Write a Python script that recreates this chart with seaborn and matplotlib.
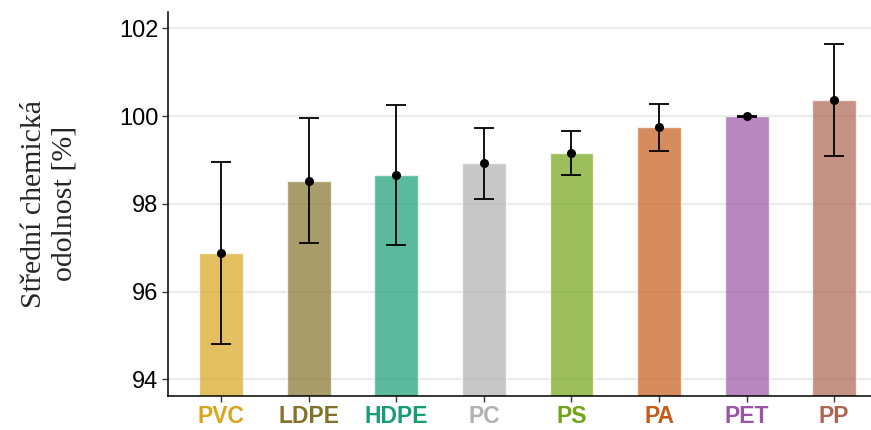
import matplotlib
matplotlib.use("Agg")
import matplotlib.pyplot as plt
import seaborn as sns
import pandas as pd

# Mean chemical resistance per polymer with its spread
polymers = ["PVC", "LDPE", "HDPE", "PC", "PS", "PA", "PET", "PP"]
mean_resistance = [96.88, 98.53, 98.66, 98.92, 99.16, 99.74, 99.99, 100.37]
spread = [2.08, 1.43, 1.60, 0.81, 0.51, 0.54, 0.02, 1.28]
colors = ["#D8A51C", "#83722A", "#169D75", "#B1B1B1",
          "#72A516", "#C75B19", "#9A55A5", "#AB6650"]

df = pd.DataFrame({"polymer": polymers, "mean": mean_resistance, "sd": spread})

sns.set_theme(style="white")
plt.rcParams["font.family"] = ["Liberation Sans", "DejaVu Sans"]

fig = plt.figure(figsize=(8.71, 4.30), dpi=100)
ax = fig.add_axes([0.193, 0.080, 0.807, 0.892])

ax.yaxis.grid(True, color="#EBEBEB", linewidth=1.6, zorder=0)
ax.set_axisbelow(True)

sns.barplot(data=df, x="polymer", y="mean", hue="polymer", palette=colors,
            order=polymers, hue_order=polymers, width=0.5, alpha=0.7,
            saturation=1, legend=False, errorbar=None, ax=ax, zorder=2)

xpos = list(range(len(polymers)))
ax.errorbar(xpos, df["mean"], yerr=df["sd"], fmt="none", ecolor="black",
            elinewidth=1.3, capsize=7.2, capthick=1.3, zorder=3)
ax.scatter(xpos, df["mean"], s=30, color="black", zorder=4)

ax.set_ylim(93.63, 102.37)
ax.set_xlim(-0.605, 7.42)
ax.set_yticks([94, 96, 98, 100, 102])
ax.tick_params(axis="both", which="both", length=4, width=1, color="#333333",
               direction="out", left=True, bottom=True)
ax.tick_params(axis="y", labelsize=17, labelcolor="black", pad=3)
ax.tick_params(axis="x", labelsize=16.5, pad=3)

for lab, c in zip(ax.get_xticklabels(), colors):
    lab.set_color(c)
    lab.set_fontweight("bold")

ax.set_xlabel("")
ax.set_ylabel("Střední chemická\nodolnost [%]", family=["Liberation Serif", "DejaVu Serif"],
              fontsize=21.5, linespacing=1.2, labelpad=30)

sns.despine(ax=ax, top=True, right=True)
for side in ("left", "bottom"):
    ax.spines[side].set_color("black")
    ax.spines[side].set_linewidth(1.1)

fig.savefig("out.png", dpi=100)
